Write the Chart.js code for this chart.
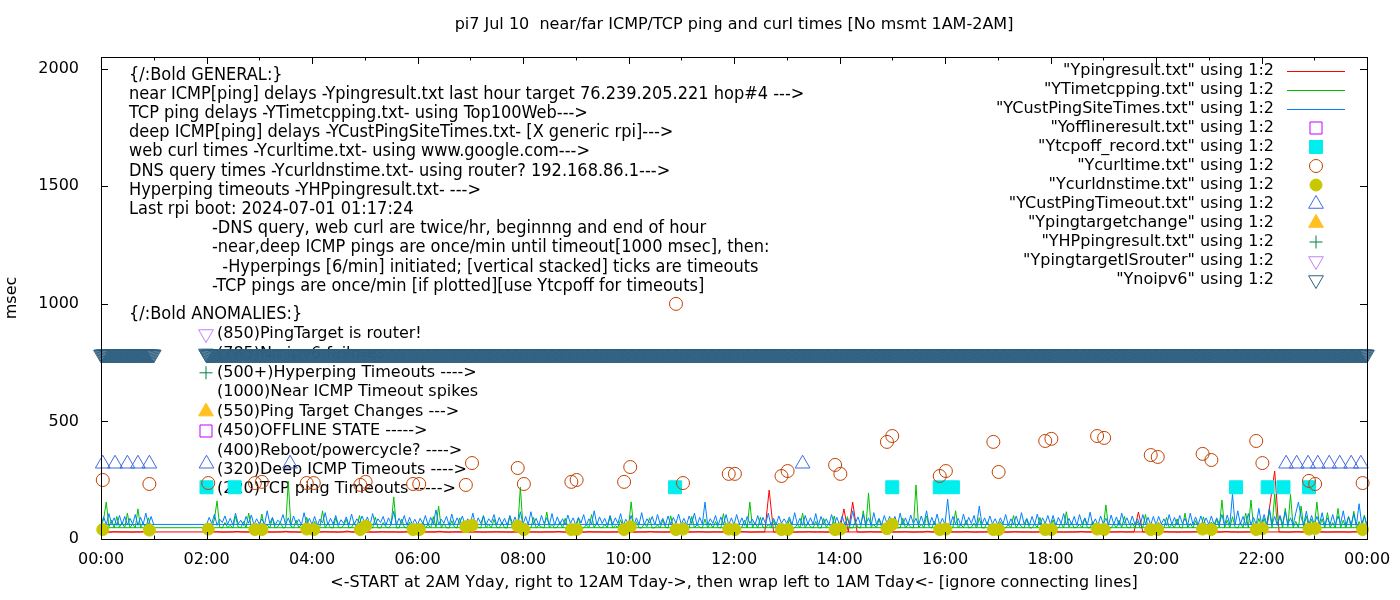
<!DOCTYPE html>
<html>
<head>
<meta charset="utf-8">
<title>pi7 ping and curl times</title>
<script src="https://cdn.jsdelivr.net/npm/chart.js@4.4.1/dist/chart.umd.min.js"></script>
<style>
  html, body { margin: 0; padding: 0; background: #fff; }
  #wrap { width: 1400px; height: 600px; }
</style>
</head>
<body>
<div id="wrap"><canvas id="pingChart" width="1400" height="600"></canvas></div>
<script>
// ---- data, all values in msec ----
// the line files start at 02:00 yesterday, run to 24:00 and then wrap back
// to 00:00-01:00 today (that's the long connecting line across the plot)
const dayStart = '02:00';
const earlyStart = '00:00';
const nearStepMin = 5;   // Ypingresult read every 5 min
const pingStepMin = 3;   // tcp / deep ping read every 3 min

const yTicks = [0, 500, 1000, 1500, 2000];
const xTicksMin = [0, 120, 240, 360, 480, 600, 720, 840, 960, 1080, 1200, 1320, 1440];

// Ypingresult.txt (near ICMP)
const nearPingDay = [
  30, 30, 31, 30, 29, 30, 30, 32, 30, 30, 29, 30,   // 02
  30, 31, 30, 29, 30, 30, 33, 30, 30, 29, 30, 30,   // 03
  29, 30, 30, 31, 30, 30, 29, 30, 34, 30, 30, 30,   // 04
  30, 30, 29, 30, 31, 30, 30, 30, 29, 30, 32, 30,   // 05
  30, 29, 30, 30, 30, 33, 30, 29, 30, 30, 30, 31,   // 06
  30, 30, 30, 29, 30, 30, 31, 30, 30, 29, 30, 30,   // 07
  31, 30, 30, 30, 29, 30, 30, 30, 32, 30, 29, 30,   // 08
  30, 30, 29, 31, 30, 30, 30, 29, 30, 30, 31, 30,   // 09
  30, 29, 30, 30, 30, 32, 30, 30, 29, 30, 30, 30,   // 10
  29, 30, 30, 30, 31, 30, 29, 30, 30, 30, 30, 33,   // 11
  30, 30, 31, 30, 29, 30, 30, 30, 208, 30, 29, 30,  // 12
  30, 30, 29, 30, 30, 31, 30, 30, 30, 29, 30, 30,   // 13
  30, 128, 30, 157, 30, 29, 30, 31, 30, 30, 30, 29, // 14
  30, 30, 30, 31, 30, 29, 30, 30, 33, 30, 30, 30,   // 15
  29, 30, 30, 30, 30, 31, 30, 29, 30, 30, 32, 30,   // 16
  30, 30, 29, 30, 31, 30, 30, 30, 29, 30, 30, 30,   // 17
  31, 30, 30, 29, 30, 30, 30, 32, 30, 30, 29, 30,   // 18
  30, 29, 30, 30, 31, 30, 30, 30, 115, 30, 30, 29,  // 19
  30, 30, 31, 30, 30, 29, 30, 30, 30, 31, 30, 30,   // 20
  29, 30, 30, 30, 32, 30, 30, 29, 30, 30, 30, 31,   // 21
  30, 30, 157, 289, 30, 30, 29, 30, 31, 30, 30, 30, // 22
  30, 31, 30, 29, 30, 30, 30, 30, 29, 31, 30, 30,   // 23
  30                                                // 24:00
];
const nearPingEarly = [
  30, 30, 29, 31, 30, 30, 30, 29, 30, 30, 32, 30,   // 00
  30                                                // 01:00
];

// YTimetcpping.txt (TCP ping)
const tcpPingDay = [
  48, 62, 47, 85, 162, 50, 47, 70, 49, 58, 47, 96, 51, 48, 74, 47, 110, 50, 47, 66,   // 02
  50, 106, 47, 60, 48, 88, 47, 52, 72, 47, 49, 245, 55, 47, 80, 48, 63, 47, 92, 50,   // 03
  48, 75, 47, 52, 120, 47, 66, 49, 47, 90, 51, 47, 58, 84, 47, 50, 69, 47, 100, 48,   // 04
  47, 64, 50, 47, 93, 48, 47, 70, 52, 47, 60, 179, 48, 47, 85, 50, 47, 72, 47, 58,    // 05
  50, 47, 72, 48, 61, 47, 95, 50, 140, 47, 66, 48, 47, 78, 51, 47, 90, 48, 62, 47,    // 06
  55, 47, 68, 49, 47, 100, 48, 62, 47, 84, 50, 47, 71, 48, 47, 96, 50, 64, 47, 221,   // 07
  50, 66, 47, 48, 92, 47, 58, 52, 47, 115, 48, 63, 47, 50, 74, 47, 88, 49, 47, 60,    // 08
  47, 88, 50, 47, 60, 48, 104, 47, 70, 51, 47, 62, 48, 96, 47, 57, 49, 82, 47, 66,    // 09
  50, 158, 47, 73, 48, 47, 65, 52, 90, 47, 48, 60, 47, 81, 50, 47, 99, 48, 64, 47,    // 10
  52, 70, 47, 48, 96, 47, 62, 50, 47, 85, 48, 68, 47, 74, 49, 47, 108, 48, 61, 47,    // 11
  48, 64, 47, 51, 80, 47, 157, 48, 70, 47, 92, 50, 47, 61, 48, 78, 47, 66, 50, 47,    // 12
  47, 83, 50, 47, 62, 48, 110, 47, 69, 52, 47, 75, 48, 47, 88, 50, 64, 47, 98, 48,    // 13
  50, 66, 47, 95, 48, 47, 72, 50, 47, 120, 48, 196, 50, 61, 47, 84, 48, 47, 70, 49,   // 14
  52, 70, 47, 48, 88, 47, 62, 50, 47, 230, 48, 64, 47, 98, 51, 47, 76, 48, 66, 47,    // 15
  49, 68, 47, 50, 120, 47, 62, 48, 80, 47, 50, 67, 47, 90, 48, 47, 73, 50, 58, 47,    // 16
  47, 74, 50, 47, 61, 48, 100, 47, 69, 52, 47, 84, 48, 47, 63, 50, 92, 47, 70, 48,    // 17
  50, 82, 47, 48, 66, 47, 116, 50, 70, 47, 51, 62, 47, 88, 48, 47, 75, 50, 64, 47,    // 18
  48, 145, 50, 47, 64, 48, 80, 47, 96, 50, 47, 68, 48, 74, 47, 50, 104, 47, 62, 48,   // 19
  47, 70, 51, 47, 92, 48, 63, 47, 85, 50, 47, 110, 48, 66, 47, 78, 50, 47, 94, 48,    // 20
  49, 72, 47, 84, 50, 166, 48, 80, 47, 95, 50, 47, 70, 48, 110, 47, 166, 52, 47, 88,  // 21
  50, 88, 47, 120, 48, 191, 60, 98, 47, 130, 52, 190, 48, 75, 47, 140, 50, 98, 47, 84,// 22
  48, 157, 50, 86, 47, 112, 49, 70, 47, 130, 48, 80, 47, 96, 50, 118, 47, 74, 48, 102,// 23
  48                                                                                   // 24:00
];
const tcpPingEarly = [
  48, 85, 157, 52, 80, 47, 96, 50, 70, 47, 110, 48, 64, 47, 128, 49, 66, 47, 90, 48,  // 00
  48                                                                                  // 01:00
];

// YCustPingSiteTimes.txt (deep ICMP)
const deepPingDay = [
  60, 92, 66, 105, 58, 84, 70, 98, 62, 88, 59, 110, 64, 80, 58, 96, 67, 102, 60, 86,  // 02
  64, 86, 60, 120, 66, 92, 58, 80, 70, 104, 61, 90, 58, 98, 66, 84, 60, 112, 63, 88,  // 03
  62, 96, 58, 85, 68, 112, 60, 88, 64, 100, 59, 82, 66, 94, 58, 106, 62, 86, 68, 98,  // 04
  66, 94, 60, 108, 62, 86, 70, 96, 58, 90, 64, 118, 60, 88, 66, 100, 58, 92, 62, 84,  // 05
  60, 88, 66, 100, 59, 92, 64, 124, 61, 84, 68, 96, 58, 106, 62, 90, 66, 98, 60, 86,  // 06
  63, 110, 58, 90, 66, 98, 60, 86, 70, 104, 59, 92, 64, 88, 58, 100, 66, 94, 60, 116, // 07
  62, 96, 60, 116, 64, 88, 58, 100, 66, 90, 61, 108, 58, 94, 64, 86, 60, 102, 66, 90, // 08
  60, 92, 68, 104, 59, 86, 63, 120, 60, 94, 66, 88, 58, 100, 62, 90, 66, 108, 60, 84, // 09
  64, 100, 58, 90, 62, 112, 60, 86, 68, 96, 59, 104, 64, 88, 58, 98, 62, 92, 66, 106, // 10
  62, 88, 60, 98, 66, 110, 58, 92, 64, 157, 60, 86, 66, 100, 58, 94, 62, 104, 60, 90, // 11
  60, 104, 64, 90, 58, 96, 66, 84, 61, 100, 59, 92, 64, 110, 58, 88, 62, 98, 66, 86,  // 12
  66, 94, 60, 112, 62, 88, 58, 100, 64, 90, 61, 108, 58, 96, 64, 86, 60, 104, 62, 92, // 13
  60, 98, 63, 86, 58, 120, 66, 94, 60, 104, 62, 90, 58, 112, 64, 88, 60, 100, 66, 96, // 14
  64, 96, 58, 110, 62, 90, 60, 102, 66, 88, 59, 98, 64, 120, 58, 92, 62, 106, 60, 88, // 15
  62, 170, 60, 96, 64, 88, 58, 106, 62, 92, 66, 100, 58, 140, 62, 90, 60, 98, 64, 86, // 16
  60, 90, 64, 104, 58, 86, 62, 98, 60, 112, 64, 88, 58, 96, 62, 106, 60, 90, 66, 100, // 17
  62, 100, 58, 92, 66, 108, 60, 88, 63, 96, 58, 104, 64, 90, 60, 114, 62, 86, 58, 98, // 18
  64, 88, 60, 102, 62, 94, 58, 110, 66, 90, 60, 98, 62, 86, 58, 104, 64, 92, 60, 96,  // 19
  60, 96, 64, 86, 58, 104, 62, 92, 60, 100, 66, 88, 58, 110, 62, 94, 60, 98, 64, 90,  // 20
  62, 98, 60, 90, 64, 104, 58, 102, 62, 191, 60, 120, 64, 96, 58, 108, 62, 92, 60, 130,   // 21
  64, 104, 60, 130, 62, 96, 58, 100, 64, 116, 62, 90, 58, 110, 157, 94, 60, 118, 62, 100, // 22
  60, 96, 64, 112, 58, 90, 62, 104, 60, 98, 66, 120, 58, 94, 62, 106, 60, 150, 64, 96,    // 23
  62                                                                                      // 24:00
];
const deepPingEarly = [
  62, 94, 60, 108, 66, 90, 58, 100, 62, 96, 60, 88, 64, 104, 58, 92, 62, 110, 60, 96, // 00
  60                                                                                  // 01:00
];

// Ycurltime.txt (web curl), twice an hour
const curlTimes = ['00:02', '00:55', '02:02', '02:55', '03:03', '03:54', '04:02', '04:55', '05:01',
  '05:55', '06:02', '06:55', '07:02', '07:54', '08:01', '08:55', '09:01', '09:55', '10:02', '10:54',
  '11:02', '11:54', '12:01', '12:54', '13:01', '13:55', '14:01', '14:54', '15:00', '15:54', '16:01',
  '16:55', '17:01', '17:54', '18:01', '18:53', '19:01', '19:54', '20:02', '20:53', '21:03', '21:54',
  '22:01', '22:54', '23:01', '23:55'];
const curlMsec = [251, 234, 238, 238, 243, 238, 238, 230, 243,
  234, 234, 230, 323, 302, 234, 243, 251, 243, 306, 1000,
  238, 277, 277, 268, 289, 315, 277, 413, 438, 268, 289,
  413, 285, 417, 426, 438, 430, 357, 349, 362, 336, 417,
  323, 247, 234, 238];

// Ycurldnstime.txt (DNS query), same moments as the curl
const dnsTimes = curlTimes;
const dnsMsec = [40, 38, 42, 40, 40, 42, 40, 40, 55,
  40, 40, 52, 58, 55, 40, 40, 40, 40, 52, 40,
  42, 42, 40, 40, 40, 40, 42, 44, 62, 40, 42,
  40, 40, 40, 40, 42, 40, 40, 40, 42, 40, 40,
  44, 42, 45, 40];

// Ytcpoff_record.txt (TCP ping timeouts)
const tcpoffTimes = ['02:00', '02:32', '10:53', '15:00', '15:54', '16:09', '21:31', '22:07', '22:25', '22:54'];
const tcpoffMsec = [220, 220, 220, 220, 220, 220, 220, 220, 220, 220];

// YCustPingTimeout.txt (deep ICMP timeouts)
const deepTimeoutTimes = ['00:02', '00:16', '00:30', '00:42', '00:55', '02:00', '03:35', '13:18',
  '22:28', '22:40', '22:53', '23:04', '23:17', '23:29', '23:42', '23:53'];
const deepTimeoutMsec = [320, 320, 320, 320, 320, 320, 320, 320, 320, 320, 320, 320, 320, 320, 320, 320];

// Ynoipv6: logged once a minute over these spans
const noipv6Spans = [['00:00', '01:00'], ['02:00', '24:00']];
const noipv6Msec = 785;

// files with nothing in them today
const offlineTimes = [], offlineMsec = [];
const targetChangeTimes = [], targetChangeMsec = [];
const hyperpingTimes = [], hyperpingMsec = [];
const targetRouterTimes = [], targetRouterMsec = [];

const seriesNames = [
  '"Ypingresult.txt" using 1:2',
  '"YTimetcpping.txt" using 1:2',
  '"YCustPingSiteTimes.txt" using 1:2',
  '"Yofflineresult.txt" using 1:2',
  '"Ytcpoff_record.txt" using 1:2',
  '"Ycurltime.txt" using 1:2',
  '"Ycurldnstime.txt" using 1:2',
  '"YCustPingTimeout.txt" using 1:2',
  '"Ypingtargetchange" using 1:2',
  '"YHPpingresult.txt" using 1:2',
  '"YpingtargetISrouter" using 1:2',
  '"Ynoipv6" using 1:2'
];

const titleText = 'pi7 Jul 10  near/far ICMP/TCP ping and curl times [No msmt 1AM-2AM]';
const xTitle = '<-START at 2AM Yday, right to 12AM Tday->, then wrap left to 1AM Tday<- [ignore connecting lines]';
const yTitle = 'msec';

const generalNotes = [
  '{/:Bold GENERAL:}',
  'near ICMP[ping] delays -Ypingresult.txt last hour target 76.239.205.221 hop#4 --->',
  'TCP ping delays -YTimetcpping.txt- using Top100Web--->',
  'deep ICMP[ping] delays -YCustPingSiteTimes.txt- [X generic rpi]--->',
  'web curl times -Ycurltime.txt- using www.google.com--->',
  'DNS query times -Ycurldnstime.txt- using router? 192.168.86.1--->',
  'Hyperping timeouts -YHPpingresult.txt- --->',
  'Last rpi boot: 2024-07-01 01:17:24'
];
const scheduleNotes = [
  '-DNS query, web curl are twice/hr, beginnng and end of hour',
  '-near,deep ICMP pings are once/min until timeout[1000 msec], then:',
  '  -Hyperpings [6/min] initiated; [vertical stacked] ticks are timeouts',
  '-TCP pings are once/min [if plotted][use Ytcpoff for timeouts]'
];
const anomalyHeader = '{/:Bold ANOMALIES:}';
// text, and which series' marker sits in front of it (-1 = none)
const anomalyNotes = [
  ['(850)PingTarget is router!', 10],
  ['(785)No ipv6 failures', 11],
  ['(500+)Hyperping Timeouts ---->', 9],
  ['(1000)Near ICMP Timeout spikes', -1],
  ['(550)Ping Target Changes --->', 8],
  ['(450)OFFLINE STATE ----->', 3],
  ['(400)Reboot/powercycle? ---->', -1],
  ['(320)Deep ICMP Timeouts ---->', -1],
  ['(220)TCP ping Timeouts ----->', -1]
];

// ---- helpers ----
const toMin = t => {
  const [h, m] = t.split(':').map(Number);
  return h * 60 + m;
};
const hourLabel = v => String(Math.round(v / 60) % 24).padStart(2, '0') + ':00';

function lineSeries(dayVals, earlyVals, step) {
  const day = dayVals.map((v, i) => ({ x: toMin(dayStart) + i * step, y: v }));
  const early = earlyVals.map((v, i) => ({ x: toMin(earlyStart) + i * step, y: v }));
  return day.concat(early); // file order, so the wrap line shows up like gnuplot
}
const pointSeries = (times, vals) => times.map((t, i) => ({ x: toMin(t), y: vals[i] }));

function spanSeries(spans, value) {
  const pts = [];
  spans.forEach(([a, b]) => {
    for (let m = toMin(a); m <= toMin(b); m++) pts.push({ x: m, y: value });
  });
  return pts;
}

// gnuplot classic colours
const gp = {
  red: '#ff0000', green: '#00c000', blue: '#0080ff', magenta: '#c000ff',
  cyan: '#00eeee', brown: '#c04000', yellow: '#c8c800', royal: '#4169e1',
  gold: '#ffc020', dkgreen: '#008040', lilac: '#c080ff', steel: '#306080'
};

function asLine(idx, color, data) {
  return {
    label: seriesNames[idx], data, showLine: true, borderColor: color, borderWidth: 1,
    pointRadius: 0, pointHoverRadius: 0, tension: 0, fill: false, order: 20 - idx
  };
}
function asPoints(idx, data, shape, color, radius, filled, rotation) {
  return {
    label: seriesNames[idx], data, showLine: false, clip: false,
    pointStyle: shape, pointRotation: rotation || 0, pointRadius: radius, pointHoverRadius: radius,
    pointBorderWidth: 1, pointBorderColor: color,
    pointBackgroundColor: filled ? color : 'rgba(0,0,0,0)',
    borderColor: color, order: 20 - idx
  };
}

const datasets = [
  asLine(0, gp.red, lineSeries(nearPingDay, nearPingEarly, nearStepMin)),
  asLine(1, gp.green, lineSeries(tcpPingDay, tcpPingEarly, pingStepMin)),
  asLine(2, gp.blue, lineSeries(deepPingDay, deepPingEarly, pingStepMin)),
  asPoints(3, pointSeries(offlineTimes, offlineMsec), 'rect', gp.magenta, 8.5, false),
  asPoints(4, pointSeries(tcpoffTimes, tcpoffMsec), 'rect', gp.cyan, 9.2, true),
  asPoints(5, pointSeries(curlTimes, curlMsec), 'circle', gp.brown, 6.5, false),
  asPoints(6, pointSeries(dnsTimes, dnsMsec), 'circle', gp.yellow, 6, true),
  asPoints(7, pointSeries(deepTimeoutTimes, deepTimeoutMsec), 'triangle', gp.royal, 8.5, false),
  asPoints(8, pointSeries(targetChangeTimes, targetChangeMsec), 'triangle', gp.gold, 8.5, true),
  asPoints(9, pointSeries(hyperpingTimes, hyperpingMsec), 'cross', gp.dkgreen, 6.5, false),
  asPoints(10, pointSeries(targetRouterTimes, targetRouterMsec), 'triangle', gp.lilac, 8.5, false, 180),
  asPoints(11, spanSeries(noipv6Spans, noipv6Msec), 'triangle', gp.steel, 8.5, false, 180)
];

const FONT = "'DejaVu Sans', 'Liberation Sans', sans-serif";

function drawMarker(ctx, ds, x, y) {
  ctx.save();
  ctx.lineWidth = 1;
  ctx.strokeStyle = ds.pointBorderColor;
  ctx.fillStyle = ds.pointBackgroundColor;
  Chart.helpers.drawPoint(ctx, {
    pointStyle: ds.pointStyle, rotation: ds.pointRotation, radius: ds.pointRadius, borderWidth: 1
  }, x, y);
  ctx.restore();
}

// gnuplot-ish frame, inward ticks, notes and key
const gnuplotLook = {
  id: 'gnuplotLook',
  beforeDatasetsDraw(chart) {
    const { ctx, chartArea: ca } = chart;
    ctx.save();
    ctx.fillStyle = '#000';
    ctx.textBaseline = 'middle';
    ctx.textAlign = 'left';
    ctx.font = "18px 'DejaVu Sans Condensed', " + FONT;
    ctx.fontStretch = 'condensed';
    generalNotes.forEach((s, i) => ctx.fillText(s, ca.left + 28, ca.top + 18 + i * 19.2));
    scheduleNotes.forEach((s, i) => ctx.fillText(s, ca.left + 111, ca.top + 171.6 + i * 19.2));
    ctx.fillText(anomalyHeader, ca.left + 28, ca.top + 257);
    ctx.fontStretch = 'normal';
    ctx.font = '16px ' + FONT;
    anomalyNotes.forEach(([s, k], i) => {
      const y = ca.top + 277 + i * 19.4;
      ctx.fillStyle = '#000';
      ctx.fillText(s, ca.left + 116, y);
      if (k >= 0) drawMarker(ctx, chart.data.datasets[k], ca.left + 105, y);
    });
    ctx.restore();
  },
  afterDatasetsDraw(chart) {
    const { ctx, chartArea: ca, scales } = chart;
    ctx.save();
    ctx.strokeStyle = '#000';
    ctx.lineWidth = 1;
    ctx.beginPath();
    for (let m = 0; m <= 1440; m += 60) {
      const x = Math.round(scales.x.getPixelForValue(m)) + 0.5;
      const len = m % 120 === 0 ? 7 : 3.5;
      ctx.moveTo(x, ca.bottom); ctx.lineTo(x, ca.bottom - len);
      ctx.moveTo(x, ca.top); ctx.lineTo(x, ca.top + len);
    }
    yTicks.forEach(v => {
      const y = Math.round(scales.y.getPixelForValue(v)) + 0.5;
      ctx.moveTo(ca.left, y); ctx.lineTo(ca.left + 7, y);
      ctx.moveTo(ca.right, y); ctx.lineTo(ca.right - 7, y);
    });
    ctx.stroke();
    ctx.strokeRect(Math.round(ca.left) + 0.5, Math.round(ca.top) + 0.5,
      Math.round(ca.right - ca.left), Math.round(ca.bottom - ca.top));

    // key, top right, gnuplot style: text right aligned, sample after it
    ctx.font = '16px ' + FONT;
    ctx.textBaseline = 'middle';
    ctx.textAlign = 'right';
    chart.data.datasets.forEach((ds, i) => {
      const y = ca.top + 14 + i * 19;
      ctx.fillStyle = '#000';
      ctx.fillText(ds.label, ca.right - 93, y);
      if (ds.showLine) {
        ctx.strokeStyle = ds.borderColor;
        ctx.beginPath();
        ctx.moveTo(ca.right - 80, Math.round(y) + 0.5);
        ctx.lineTo(ca.right - 22, Math.round(y) + 0.5);
        ctx.stroke();
      } else {
        drawMarker(ctx, ds, ca.right - 51, y);
      }
    });

    // titles
    const midX = (ca.left + ca.right) / 2;
    ctx.fillStyle = '#000';
    ctx.textAlign = 'center';
    ctx.fillText(titleText, midX, 25);
    ctx.fillText(xTitle, midX, 583);
    ctx.translate(12, (ca.top + ca.bottom) / 2);
    ctx.rotate(-Math.PI / 2);
    ctx.fillText(yTitle, 0, 0);
    ctx.restore();
  }
};

Chart.defaults.font.family = FONT;
Chart.defaults.font.size = 16;
Chart.defaults.color = '#000';

new Chart(document.getElementById('pingChart'), {
  type: 'line',
  data: { datasets },
  options: {
    responsive: false,
    animation: false,
    devicePixelRatio: 1,
    events: [],
    layout: { padding: { top: 57, right: 33, left: 0, bottom: 0 } },
    plugins: { legend: { display: false }, tooltip: { enabled: false }, title: { display: false } },
    scales: {
      x: {
        type: 'linear', min: 0, max: 1440,
        afterFit: s => { s.height = 61; },
        afterBuildTicks: s => { s.ticks = xTicksMin.map(v => ({ value: v })); },
        grid: { display: false }, border: { display: false },
        ticks: { autoSkip: false, maxRotation: 0, padding: 3, callback: hourLabel }
      },
      y: {
        type: 'linear', min: 0, max: 2050,
        afterFit: s => { s.width = 101; },
        afterBuildTicks: s => { s.ticks = yTicks.map(v => ({ value: v })); },
        grid: { display: false }, border: { display: false },
        ticks: { padding: 14, callback: v => String(v) }
      }
    }
  },
  plugins: [gnuplotLook]
});
</script>
</body>
</html>
